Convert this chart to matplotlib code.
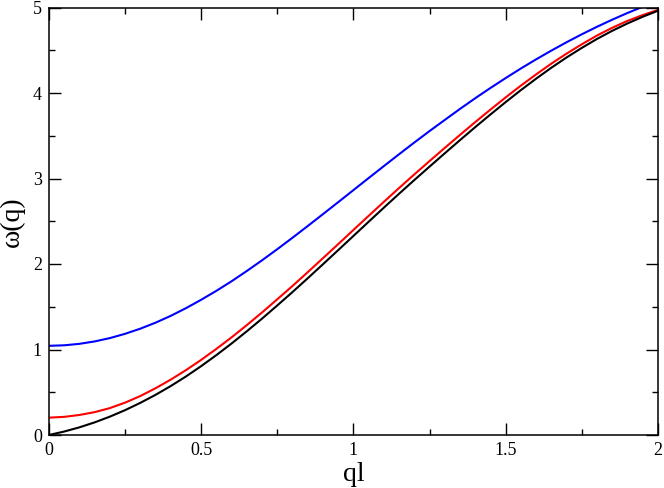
import matplotlib
matplotlib.use("Agg")
import matplotlib.pyplot as plt
from matplotlib.ticker import MultipleLocator

q = [0.00, 0.05, 0.10, 0.15, 0.20, 0.25, 0.30, 0.35, 0.40, 0.45,
     0.50, 0.55, 0.60, 0.65, 0.70, 0.75, 0.80, 0.85, 0.90, 0.95,
     1.00, 1.05, 1.10, 1.15, 1.20, 1.25, 1.30, 1.35, 1.40, 1.45,
     1.50, 1.55, 1.60, 1.65, 1.70, 1.75, 1.80, 1.85, 1.90, 1.95, 2.00]
omega_black = [0.000, 0.040, 0.089, 0.147, 0.214, 0.290, 0.375, 0.469, 0.572, 0.684,
               0.805, 0.934, 1.070, 1.213, 1.361, 1.515, 1.672, 1.833, 1.997, 2.162,
               2.328, 2.494, 2.659, 2.822, 2.982, 3.139, 3.295, 3.449, 3.601, 3.749,
               3.894, 4.034, 4.168, 4.296, 4.416, 4.528, 4.633, 4.728, 4.814, 4.892, 4.962]
omega_red = [0.203, 0.212, 0.234, 0.267, 0.314, 0.378, 0.455, 0.546, 0.647, 0.758,
             0.878, 1.007, 1.142, 1.285, 1.433, 1.587, 1.743, 1.904, 2.068, 2.232,
             2.398, 2.563, 2.727, 2.889, 3.048, 3.204, 3.358, 3.510, 3.660, 3.806,
             3.949, 4.087, 4.218, 4.344, 4.461, 4.570, 4.673, 4.763, 4.844, 4.912, 4.972]
omega_blue = [1.043, 1.049, 1.066, 1.094, 1.133, 1.183, 1.243, 1.313, 1.393, 1.483,
              1.581, 1.686, 1.798, 1.918, 2.043, 2.173, 2.307, 2.444, 2.583, 2.723,
              2.864, 3.005, 3.145, 3.284, 3.421, 3.555, 3.685, 3.814, 3.939, 4.059,
              4.175, 4.287, 4.394, 4.496, 4.594, 4.687, 4.775, 4.858, 4.936, 5.009, 5.077]

xticks = [0, 0.5, 1, 1.5, 2]
xticklabels = ["0", "0.5", "1", "1.5", "2"]
yticks = [0, 1, 2, 3, 4, 5]
yticklabels = ["0", "1", "2", "3", "4", "5"]

plt.rcParams['font.family'] = ['Liberation Serif', 'DejaVu Serif']

fig = plt.figure(figsize=(6.64, 4.88), dpi=100)
ax = fig.add_axes([48.8 / 664, 1 - 435 / 488, (658 - 48.8) / 664, (435 - 7.5) / 488])

ax.plot(q, omega_blue, color=(0, 0, 1), lw=1.5)
ax.plot(q, omega_red, color=(1, 0, 0), lw=1.5)
ax.plot(q, omega_black, color='black', lw=1.5)

ax.set_xlim(0, 2)
ax.set_ylim(0, 5)
ax.set_xticks(xticks)
ax.set_xticklabels(xticklabels)
ax.set_yticks(yticks)
ax.set_yticklabels(yticklabels)
ax.xaxis.set_minor_locator(MultipleLocator(0.25))
ax.yaxis.set_minor_locator(MultipleLocator(0.5))

ax.tick_params(which='both', direction='in', top=True, right=True, width=1.0)
ax.tick_params(which='major', length=8.6, labelsize=13, pad=5)
ax.tick_params(which='minor', length=4.3)
for s in ax.spines.values():
    s.set_linewidth(1.1)

ax.set_xlabel("ql", fontsize=20, labelpad=2)
ax.set_ylabel("ω(q)", fontsize=20, labelpad=6)

fig.savefig("out.png", dpi=100)
